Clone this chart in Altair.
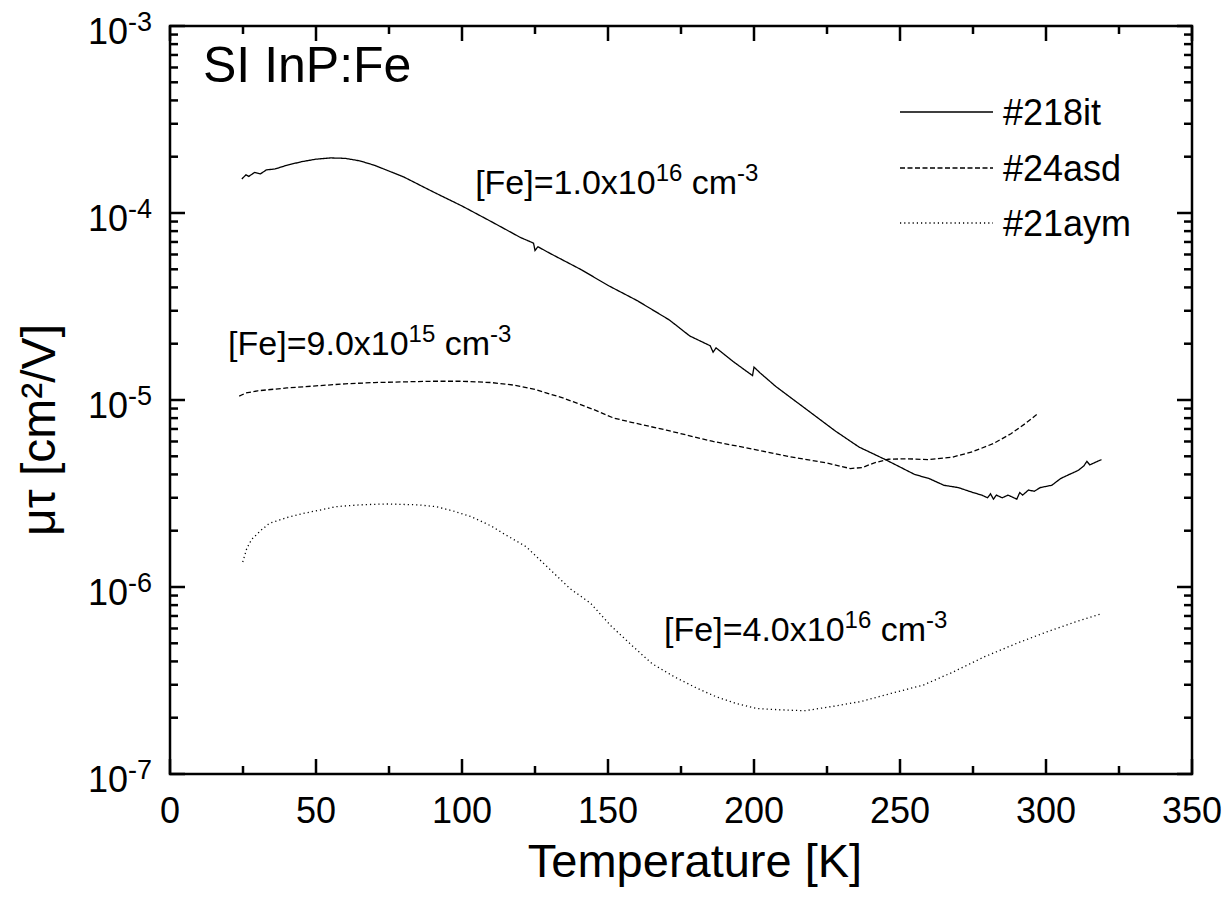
import altair as alt
import pandas as pd

# ---- measured curves: temperature [K] and mu*tau [cm^2/V] ----
t_218it = [24.6, 26, 27, 29, 31, 33, 36, 40, 45, 50, 55, 60, 65, 70, 80, 90, 100, 110, 120,
           124.5, 125, 126, 130, 141, 150, 160, 171, 178, 185, 186, 187, 193, 199.5, 200, 202,
           207.5, 218, 228, 236, 245, 255, 260, 265, 270, 275, 278, 280, 281, 282, 283, 285,
           287, 288, 290, 291, 292, 294, 296, 298, 300, 302, 305, 308, 311, 313, 314, 315, 317, 319]
v_218it = [1.52e-4, 1.60e-4, 1.57e-4, 1.65e-4, 1.62e-4, 1.70e-4, 1.72e-4, 1.80e-4, 1.88e-4,
           1.94e-4, 1.97e-4, 1.96e-4, 1.90e-4, 1.80e-4, 1.56e-4, 1.30e-4, 1.09e-4, 9.0e-5, 7.4e-5,
           6.9e-5, 6.3e-5, 6.6e-5, 6.1e-5, 4.96e-5, 4.1e-5, 3.4e-5, 2.68e-5, 2.2e-5, 1.95e-5,
           1.8e-5, 1.9e-5, 1.6e-5, 1.35e-5, 1.5e-5, 1.4e-5, 1.18e-5, 8.9e-6, 6.8e-6, 5.6e-6,
           4.8e-6, 4.0e-6, 3.8e-6, 3.5e-6, 3.4e-6, 3.2e-6, 3.1e-6, 3.0e-6, 3.15e-6, 2.95e-6,
           3.1e-6, 3.0e-6, 3.1e-6, 3.05e-6, 2.95e-6, 3.2e-6, 3.1e-6, 3.3e-6, 3.25e-6, 3.4e-6,
           3.45e-6, 3.5e-6, 3.8e-6, 4.0e-6, 4.2e-6, 4.45e-6, 4.7e-6, 4.5e-6, 4.65e-6, 4.8e-6]

t_24asd = [23.7, 26, 30, 40, 50, 60, 70, 80, 90, 100, 110, 118, 125, 135, 145, 152, 158, 170,
           186, 200, 212, 225, 233, 237, 241, 246, 252, 260, 268, 275, 282, 288, 293, 297]
v_24asd = [1.05e-5, 1.09e-5, 1.12e-5, 1.16e-5, 1.19e-5, 1.22e-5, 1.24e-5, 1.25e-5, 1.26e-5,
           1.26e-5, 1.24e-5, 1.2e-5, 1.14e-5, 1.02e-5, 8.9e-6, 8.0e-6, 7.6e-6, 6.9e-6, 6.0e-6,
           5.45e-6, 4.98e-6, 4.6e-6, 4.3e-6, 4.35e-6, 4.6e-6, 4.82e-6, 4.85e-6, 4.8e-6, 4.95e-6,
           5.3e-6, 5.85e-6, 6.6e-6, 7.5e-6, 8.4e-6]

t_21aym = [24.9, 26.3, 28, 31, 34, 40, 46, 57, 65, 74, 85, 91, 97, 103, 110, 114, 122, 129, 137,
           144, 151, 158.6, 165, 172.7, 180, 187, 194, 201, 210, 217.5, 227, 236.6, 247, 258,
           268, 279, 290, 300.5, 310, 319]
v_21aym = [1.36e-6, 1.61e-6, 1.8e-6, 2.0e-6, 2.19e-6, 2.35e-6, 2.48e-6, 2.69e-6, 2.75e-6,
           2.78e-6, 2.75e-6, 2.69e-6, 2.55e-6, 2.38e-6, 2.12e-6, 1.94e-6, 1.64e-6, 1.29e-6,
           9.8e-7, 8.2e-7, 6.2e-7, 4.8e-7, 3.9e-7, 3.31e-7, 2.9e-7, 2.59e-7, 2.38e-7, 2.24e-7,
           2.2e-7, 2.18e-7, 2.3e-7, 2.44e-7, 2.7e-7, 2.99e-7, 3.5e-7, 4.24e-7, 5.0e-7, 5.77e-7,
           6.5e-7, 7.2e-7]

series_names = ["#218it", "#24asd", "#21aym"]
series_dash = [[1, 0], [5, 2.5], [1.2, 3]]

# ---- axis ticks and labels ----
x_major = [0, 50, 100, 150, 200, 250, 300, 350]
x_minor = [25, 75, 125, 175, 225, 275, 325]
y_major = [1e-7, 1e-6, 1e-5, 1e-4, 1e-3]
y_exp = ["-7", "-6", "-5", "-4", "-3"]
y_minor = [k * 10.0 ** e for e in range(-7, -3) for k in range(2, 10)]

W, H = 1022, 748
FONT = "Liberation Sans"

curves = pd.concat([
    pd.DataFrame({"T": t_218it, "v": v_218it, "s": series_names[0]}),
    pd.DataFrame({"T": t_24asd, "v": v_24asd, "s": series_names[1]}),
    pd.DataFrame({"T": t_21aym, "v": v_21aym, "s": series_names[2]}),
])

xs = alt.Scale(domain=[0, 350], nice=False, zero=False)
ys = alt.Scale(type="log", domain=[1e-7, 1e-3], nice=False)
X = alt.X("T:Q", scale=xs, axis=None)
Y = alt.Y("v:Q", scale=ys, axis=None)

lines = alt.Chart(curves).mark_line(color="black", strokeWidth=1.3, clip=True).encode(
    x=X, y=Y,
    strokeDash=alt.StrokeDash("s:N", scale=alt.Scale(domain=series_names, range=series_dash),
                              legend=None),
    detail="s:N",
)

# plot frame
frame = alt.Chart(pd.DataFrame({"k": [0]})).mark_rect(
    fill=None, stroke="black", strokeWidth=2.5).encode(
    x=alt.value(0), x2=alt.value(W), y=alt.value(0), y2=alt.value(H))

TICK_W = 2.5

# inward ticks on all four sides
def xticks(vals, length):
    df = pd.DataFrame({"T": vals})
    base = alt.Chart(df).mark_rule(color="black", strokeWidth=TICK_W)
    return (base.encode(x=X, y=alt.value(H), y2=alt.value(H - length)) +
            base.encode(x=X, y=alt.value(0), y2=alt.value(length)))

def yticks(vals, length):
    df = pd.DataFrame({"v": vals})
    base = alt.Chart(df).mark_rule(color="black", strokeWidth=TICK_W)
    return (base.encode(y=Y, x=alt.value(0), x2=alt.value(length)) +
            base.encode(y=Y, x=alt.value(W), x2=alt.value(W - length)))

ticks = xticks(x_major, 15) + xticks(x_minor, 8) + yticks(y_major, 15) + yticks(y_minor, 8)

xlab = alt.Chart(pd.DataFrame({"T": x_major, "lab": [str(v) for v in x_major]})).mark_text(
    font=FONT, fontSize=36, align="center", baseline="alphabetic", dy=49
).encode(x=X, y=alt.value(H), text="lab:N")

ydf = pd.DataFrame({"v": y_major, "e": y_exp, "b": "10"})
ylab_base = alt.Chart(ydf).mark_text(font=FONT, fontSize=36, align="right",
                                     baseline="alphabetic", dy=18).encode(
    y=Y, x=alt.value(-42), text="b:N")
ylab_exp = alt.Chart(ydf).mark_text(font=FONT, fontSize=27, align="left",
                                    baseline="alphabetic", dy=5).encode(
    y=Y, x=alt.value(-42), text="e:N")

# Arial / Liberation Sans advance widths (per em) used to chain superscripts
ADV = {"[": .278, "]": .278, "F": .611, "e": .556, "=": .584, ".": .278, "x": .5,
       " ": .278, "c": .5, "m": .833, "-": .333}
def text_width(s, size):
    return sum(ADV.get(ch, .556) for ch in s) * size

def conc_label(T, v, mant, exp_, size=34, sup=24, rise=13):
    # (text, font size, vertical shift, space before)
    parts = [("[Fe]=" + mant + "x10", size, 0, 0), (exp_, sup, -rise, 0),
             ("cm", size, 0, text_width(" ", size)), ("-3", sup, -rise, 0)]
    layers, off = [], 0.0
    df = pd.DataFrame({"T": [T], "v": [v]})
    for txt, fs, dy, gap in parts:
        off += gap
        layers.append(alt.Chart(df).mark_text(
            text=txt, font=FONT, fontSize=fs, align="left", baseline="alphabetic",
            dx=off, dy=dy).encode(x=X, y=Y))
        off += text_width(txt, fs)
    return alt.layer(*layers)

ann = (conc_label(104.5, 1.265e-4, "1.0", "16") +
       conc_label(19.9, 1.74e-5, "9.0", "15") +
       conc_label(169.2, 5.14e-7, "4.0", "16"))

title_txt = alt.Chart(pd.DataFrame({"T": [11.3], "v": [5.0e-4]})).mark_text(
    text="SI InP:Fe", font=FONT, fontSize=50, align="left", baseline="alphabetic"
).encode(x=X, y=Y)

# legend block
leg_y = [86, 142, 197]
leg = []
for name, dash, yy in zip(series_names, series_dash, leg_y):
    leg.append(alt.Chart(pd.DataFrame({"s": [name]})).mark_rule(
        color="black", strokeWidth=1.3, strokeDash=dash).encode(
        x=alt.value(730), x2=alt.value(823), y=alt.value(yy)))
    leg.append(alt.Chart(pd.DataFrame({"s": [name]})).mark_text(
        font=FONT, fontSize=36, align="left", baseline="alphabetic").encode(
        x=alt.value(833), y=alt.value(yy + 13), text="s:N"))

axis_titles = alt.layer(
    alt.Chart(pd.DataFrame({"t": ["Temperature [K]"]})).mark_text(
        font=FONT, fontSize=47, align="center", baseline="alphabetic").encode(
        x=alt.value(525), y=alt.value(H + 103), text="t:N"),
    alt.Chart(pd.DataFrame({"t": ["μτ [cm²/V]"]})).mark_text(
        font=FONT, fontSize=48, align="center", baseline="alphabetic", angle=270).encode(
        x=alt.value(-115), y=alt.value(404), text="t:N"),
)

chart = alt.layer(
    lines, frame, ticks, xlab, ylab_base, ylab_exp, ann, title_txt, *leg, axis_titles
).properties(
    width=W, height=H,
    autosize=alt.AutoSizeParams(type="none"),
    padding={"left": 170, "top": 26, "right": 36, "bottom": 133},
).configure_view(stroke=None).configure(background="white")

chart.save("out.html", embed_options={"renderer": "svg", "actions": False})
